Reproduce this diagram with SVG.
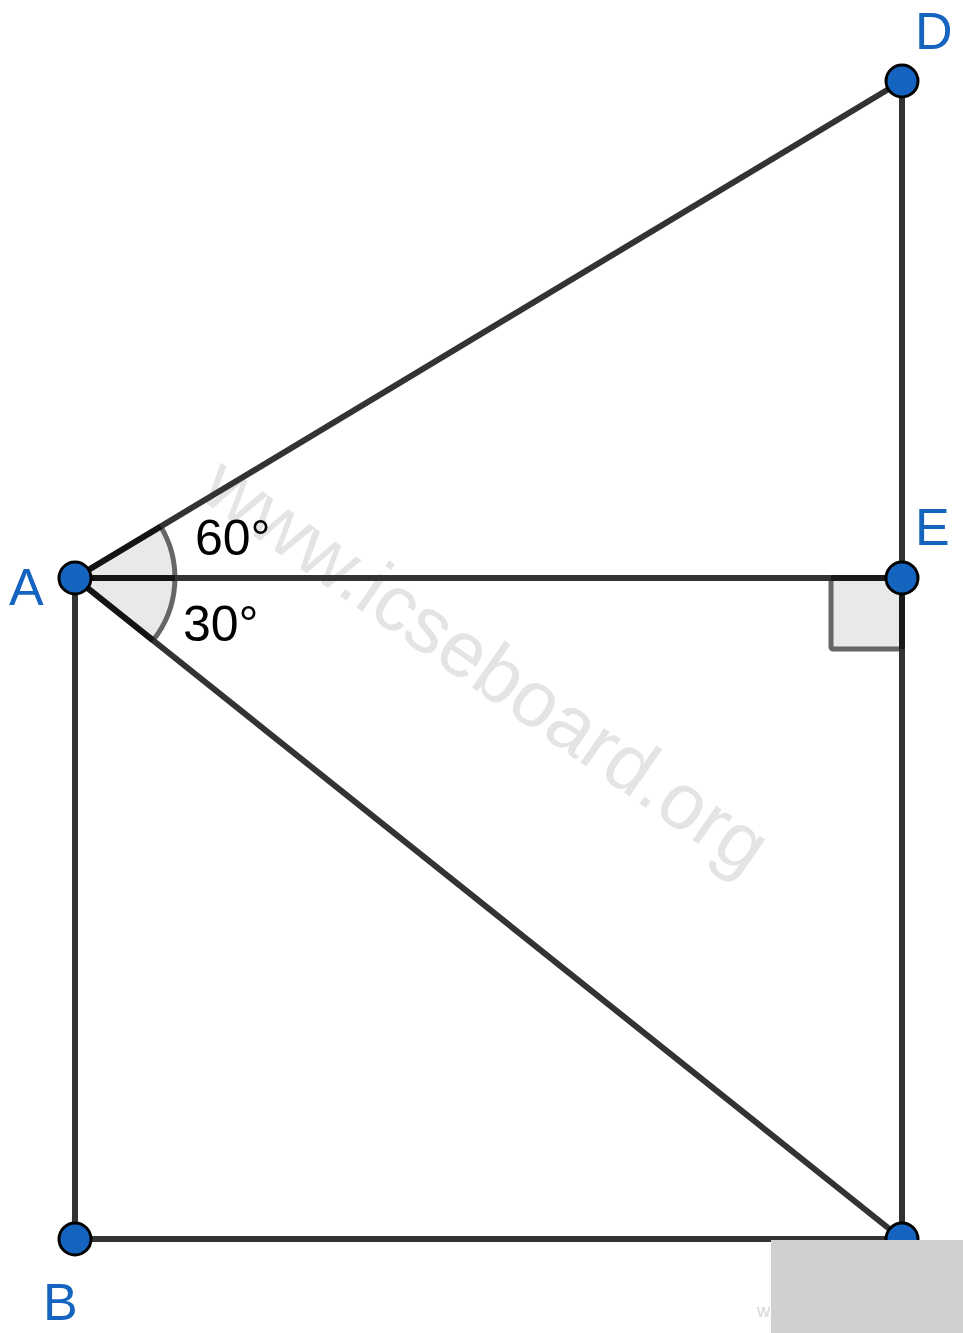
<svg xmlns="http://www.w3.org/2000/svg" width="963" height="1333" viewBox="0 0 963 1333">
<style>
.ln{stroke:#333333;stroke-width:6;stroke-linecap:round;fill:none}
.pt{fill:#1565c0;stroke:#000000;stroke-width:3}
.lbl{font-family:"Liberation Sans",Arial,sans-serif;font-size:52px;fill:#1565c0}
.ang{font-family:"Liberation Sans",Arial,sans-serif;font-size:50px;fill:#000000}
.wm{font-family:"Liberation Sans",Arial,sans-serif;font-size:79px;fill:#e4e4e4}
</style>
<rect x="0" y="0" width="963" height="1333" fill="#ffffff"/>
<text class="wm" transform="translate(197,497) rotate(34.7)">www.icseboard.org</text>
<g id="angle-marks">
<path d="M75,578 L160.7,526.5 A100,100 0 0 1 153,640.4 Z" fill="#e8e9e9" stroke="none"/>
<path d="M160.7,526.5 A100,100 0 0 1 153,640.4" fill="none" stroke="#666666" stroke-width="5"/>
<rect x="831" y="578" width="71" height="71" fill="#e8e9e9" stroke="#666666" stroke-width="5" rx="2"/>
</g>
<g id="connectors">
<line class="ln" x1="75" y1="578" x2="902" y2="81"/>
<line class="ln" x1="75" y1="578" x2="902" y2="578"/>
<line class="ln" x1="75" y1="578" x2="902" y2="1239"/>
<line class="ln" x1="75" y1="578" x2="75" y2="1239"/>
<line class="ln" x1="75" y1="1239" x2="902" y2="1239"/>
<line class="ln" x1="902" y1="81" x2="902" y2="1239"/>
<path d="M160.7,526.5 L75,578 L153,640.4 M75,578 L175,578" fill="none" stroke="#000000" stroke-width="6" opacity="0.6"/>
<path d="M831,578 L902,578 L902,649" fill="none" stroke="#000000" stroke-width="6" opacity="0.5"/>
</g>
<g id="A"><circle class="pt" cx="75" cy="578" r="16"/><text class="lbl" x="9" y="605">A</text></g>
<g id="B"><circle class="pt" cx="75" cy="1239" r="16"/><text class="lbl" x="43" y="1320">B</text></g>
<g id="C"><circle class="pt" cx="902" cy="1239" r="16"/></g>
<g id="D"><circle class="pt" cx="902" cy="81" r="16"/><text class="lbl" x="915" y="49">D</text></g>
<g id="E"><circle class="pt" cx="902" cy="578" r="16"/><text class="lbl" x="915" y="545">E</text></g>
<g id="labels">
<text class="ang" x="195" y="555">60°</text>
<text class="ang" x="183" y="641">30°</text>
</g>
<text x="757" y="1317" font-family="Liberation Sans,Arial,sans-serif" font-size="18" fill="#d6d6d6">w</text>
<rect x="771" y="1240" width="192" height="93" fill="#d0d0d0"/>
</svg>
